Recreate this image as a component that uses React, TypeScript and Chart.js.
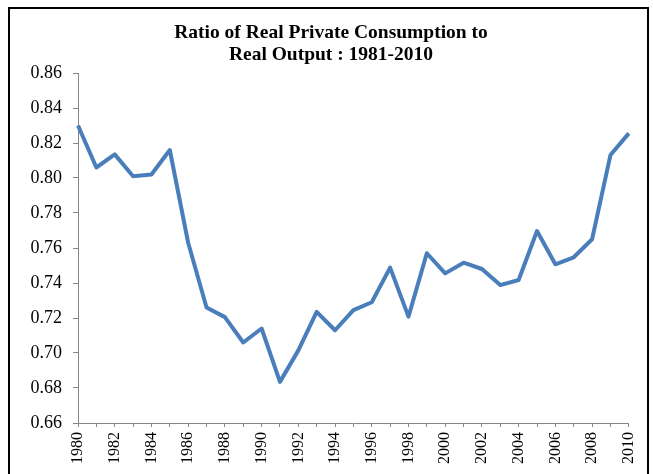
import React, { useEffect, useRef } from "react";
import { Chart, registerables } from "chart.js";

Chart.register(...registerables);

const titleLines = ["Ratio of Real Private Consumption to", "Real Output : 1981-2010"];

const years = [
  "1980", "1981", "1982", "1983", "1984", "1985", "1986", "1987", "1988", "1989",
  "1990", "1991", "1992", "1993", "1994", "1995", "1996", "1997", "1998", "1999",
  "2000", "2001", "2002", "2003", "2004", "2005", "2006", "2007", "2008", "2009", "2010",
];

const ratio = [
  0.830, 0.806, 0.8135, 0.801, 0.802, 0.816, 0.763, 0.726, 0.7205, 0.706,
  0.714, 0.6835, 0.7015, 0.7235, 0.713, 0.7245, 0.729, 0.7488, 0.7208, 0.757,
  0.7455, 0.7516, 0.748, 0.7388, 0.7417, 0.7697, 0.7507, 0.7547, 0.765, 0.8131, 0.8255,
];

const yMin = 0.66;
const yMax = 0.86;
const yStep = 0.02;

const FONT = "'Liberation Serif', 'Times New Roman', serif";

const framePlugin = {
  id: "frameAndTitle",
  beforeDraw(chart: any) {
    const ctx = chart.ctx;
    ctx.save();
    ctx.fillStyle = "#ffffff";
    ctx.fillRect(0, 0, chart.width, chart.height);
    ctx.strokeStyle = "#000000";
    ctx.lineWidth = 2;
    ctx.strokeRect(9, 8, 639, 480);
    ctx.fillStyle = "#000000";
    ctx.font = `bold 19.5px ${FONT}`;
    ctx.textAlign = "center";
    ctx.textBaseline = "middle";
    const cx = 331;
    titleLines.forEach((line, i) => {
      ctx.fillText(line, cx, 33 + i * 22);
    });
    ctx.restore();
  },
};

export default function App() {
  const ref = useRef<HTMLCanvasElement | null>(null);

  useEffect(() => {
    if (!ref.current) return;
    const chart = new Chart(ref.current, {
      type: "line",
      data: {
        labels: years,
        datasets: [
          {
            label: "Ratio",
            data: ratio,
            borderColor: "#4a7ebb",
            borderWidth: 4,
            pointRadius: 0,
            tension: 0,
            fill: false,
            borderJoinStyle: "round",
          },
        ],
      },
      options: {
        animation: false,
        responsive: false,
        layout: { padding: { left: 0, right: 24, top: 73, bottom: 0 } },
        plugins: {
          legend: { display: false },
          tooltip: { enabled: false },
          title: { display: false },
        },
        scales: {
          x: {
            type: "category",
            offset: false,
            grid: {
              display: true,
              drawOnChartArea: false,
              drawTicks: true,
              tickLength: 4,
              color: "#868686",
              offset: false,
            },
            border: { display: true, color: "#868686", width: 1 },
            ticks: {
              autoSkip: false,
              maxRotation: 90,
              minRotation: 90,
              padding: 5,
              color: "#000",
              font: { family: FONT, size: 16 },
              callback: (_v: any, i: number) => (i % 2 === 0 ? years[i] : ""),
            },
            afterFit: (s: any) => {
              s.height = 51;
            },
          },
          y: {
            min: yMin,
            max: yMax,
            grid: {
              display: true,
              drawOnChartArea: false,
              drawTicks: true,
              tickLength: 5,
              color: "#868686",
            },
            border: { display: true, color: "#868686", width: 1 },
            ticks: {
              stepSize: yStep,
              padding: 11,
              color: "#000",
              font: { family: FONT, size: 18 },
              callback: (v: any) => Number(v).toFixed(2),
            },
            afterFit: (s: any) => {
              s.width = 78;
            },
          },
        },
      },
      plugins: [framePlugin],
    });
    return () => chart.destroy();
  }, []);

  return (
    <div style={{ position: "fixed", left: 0, top: 0, width: 653, height: 474 }}>
      <canvas ref={ref} width={653} height={474} style={{ width: 653, height: 474 }} />
    </div>
  );
}
